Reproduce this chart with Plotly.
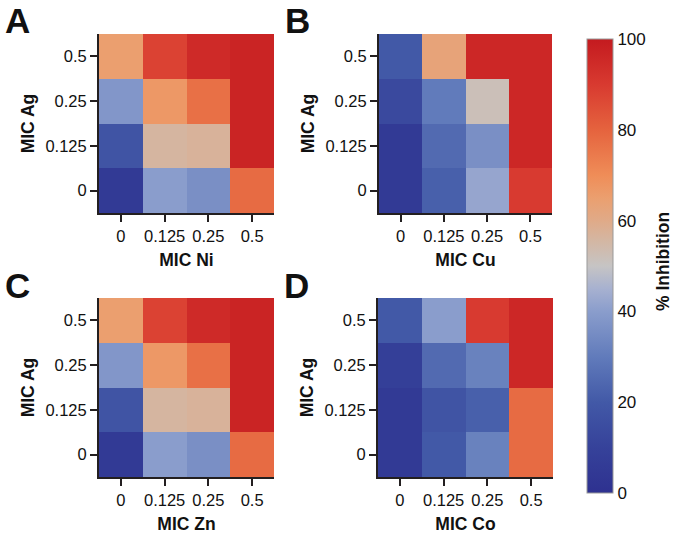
import plotly.graph_objects as go

# ---- data ----
ag_levels = ["0", "0.125", "0.25", "0.5"]           # y categories (bottom -> top)
metal_levels = ["0", "0.125", "0.25", "0.5"]        # x categories
panel_letters = ["A", "B", "C", "D"]
x_titles = ["MIC Ni", "MIC Cu", "MIC Zn", "MIC Co"]
y_title = "MIC Ag"

# rows: Ag = 0, 0.125, 0.25, 0.5 ; cols: metal = 0, 0.125, 0.25, 0.5
inhib_ni = [[5, 40, 36, 78],
            [18, 56, 57, 97],
            [38, 67, 77, 97],
            [65, 88, 95, 97]]
inhib_cu = [[5, 22, 42, 90],
            [5, 25, 36, 96],
            [13, 30, 52, 96],
            [20, 63, 96, 96]]
inhib_zn = [[5, 40, 36, 78],
            [18, 56, 57, 97],
            [38, 67, 77, 97],
            [65, 88, 95, 97]]
inhib_co = [[5, 20, 32, 78],
            [5, 18, 22, 78],
            [8, 25, 32, 96],
            [20, 40, 90, 96]]
panels = [inhib_ni, inhib_cu, inhib_zn, inhib_co]

cbar_ticks = [0, 20, 40, 60, 80, 100]

colorscale = [
    [0.00, "#2e3190"],
    [0.10, "#36429a"],
    [0.20, "#4259a7"],
    [0.30, "#617bbb"],
    [0.40, "#8a9dcc"],
    [0.45, "#a7b1d0"],
    [0.50, "#c6c4c4"],
    [0.55, "#d2b8a6"],
    [0.60, "#e0aa88"],
    [0.65, "#eb9f6f"],
    [0.70, "#ef8d58"],
    [0.80, "#e5633e"],
    [0.90, "#d83a30"],
    [1.00, "#c41a1f"],
]

W, H = 675, 538
FONT = "Liberation Sans, Arial, sans-serif"

# panel boxes in pixels (left, right, top, bottom)
boxes = [(99, 274, 34, 213), (379, 552, 34, 213),
         (99, 274, 298, 477), (378, 553, 298, 477)]

fig = go.Figure()
for i, (z, box) in enumerate(zip(panels, boxes)):
    n = i + 1
    xa = "x" if n == 1 else f"x{n}"
    ya = "y" if n == 1 else f"y{n}"
    fig.add_trace(go.Heatmap(
        z=z, x=list(range(len(metal_levels))), y=list(range(len(ag_levels))),
        xaxis=xa, yaxis=ya, coloraxis="coloraxis", xgap=0, ygap=0,
    ))
    l, r, t, b = box
    axcommon = dict(showline=True, linecolor="#231f20", linewidth=2, ticks="outside",
                    ticklen=7, tickwidth=2, tickcolor="#231f20", mirror=False,
                    showgrid=False, zeroline=False, automargin=False,
                    tickfont=dict(family=FONT, size=16.5, color="#111"),
                    range=[-0.5, 3.5], fixedrange=True)
    fig.update_layout(**{
        ("xaxis" if n == 1 else f"xaxis{n}"): dict(
            domain=[l / W, r / W], anchor=ya,
            tickvals=list(range(4)), ticktext=metal_levels,
            title=dict(text=f"<b>{x_titles[i]}</b>", standoff=10,
                       font=dict(family=FONT, size=17.5, color="#111")),
            **axcommon),
        ("yaxis" if n == 1 else f"yaxis{n}"): dict(
            domain=[1 - b / H, 1 - t / H], anchor=xa,
            tickvals=list(range(4)), ticktext=ag_levels,
            title=dict(text=f"<b>{y_title}</b>", standoff=6,
                       font=dict(family=FONT, size=17.5, color="#111")),
            **axcommon),
    })
    fig.add_annotation(text=f"<b>{panel_letters[i]}</b>", xref="paper", yref="paper",
                       x=(l - 82) / W, y=1 - (t - 13) / H, xanchor="center", yanchor="middle",
                       showarrow=False, font=dict(family=FONT, size=35, color="#111"))

fig.update_layout(
    width=W, height=H, margin=dict(l=0, r=0, t=0, b=0, autoexpand=False),
    paper_bgcolor="white", plot_bgcolor="white",
    coloraxis=dict(
        colorscale=colorscale, cmin=0, cmax=100,
        colorbar=dict(
            x=587 / W, xanchor="left", y=1 - 266 / H, yanchor="middle",
            len=454 / H, lenmode="fraction", thickness=26, thicknessmode="pixels",
            outlinewidth=1, outlinecolor="#999",
            tickvals=cbar_ticks, ticks="", ticklabelposition="outside",
            tickfont=dict(family=FONT, size=17, color="#111"),
            xpad=0, ypad=0,
        ),
    ),
)
fig.add_annotation(text="<b>% Inhibition</b>", xref="paper", yref="paper",
                   x=663 / W, y=1 - 262 / H, textangle=-90, showarrow=False,
                   xanchor="center", yanchor="middle",
                   font=dict(family=FONT, size=17.5, color="#111"))

fig.write_html("out.html", config={"displayModeBar": False},
               post_script="document.body.style.margin='0px';document.body.style.overflow='hidden';")
